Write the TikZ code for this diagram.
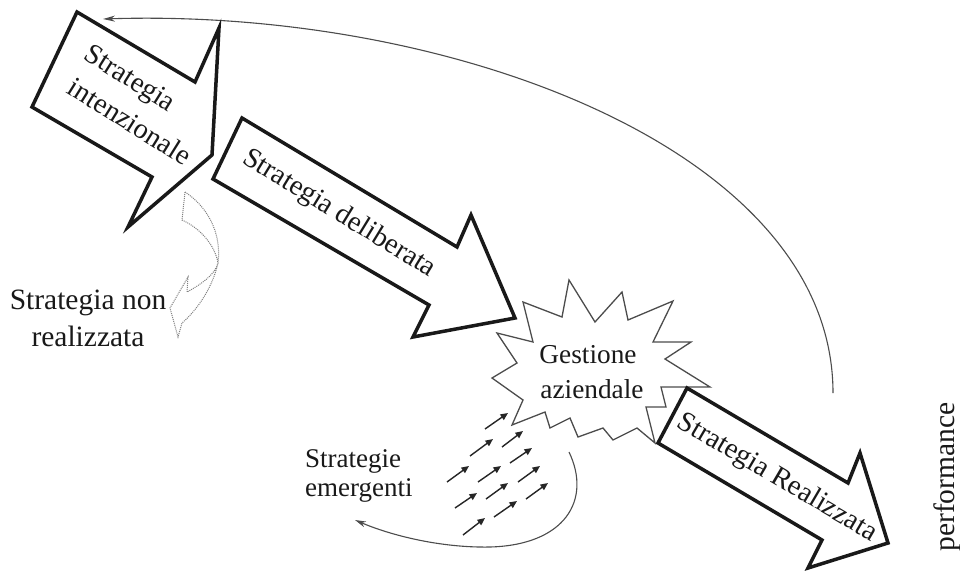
\documentclass[tikz,border=0pt]{standalone}
\usepackage{fontspec}
\setmainfont{Liberation Serif}
\usetikzlibrary{arrows.meta}
\begin{document}
\begin{tikzpicture}[x=1pt,y=-1pt,
  bigarrow/.style={draw=black!90, line width=3.5pt, fill=white, line join=miter},
  burst/.style={draw=black!70, line width=1.3pt, fill=white, line join=miter},
  lbl/.style={text=black!90, inner sep=0pt},
  thinline/.style={draw=black!70, line width=1.1pt},
  smallarrow/.style={draw=black!85, line width=1.4pt, -{Triangle[length=7.5pt,width=6.5pt]}},
  dotarrow/.style={draw=black!50, line width=1pt, dash pattern=on 1pt off 1pt}
]
\fill[white] (0,0) rectangle (960,570);
\useasboundingbox (0,0) rectangle (960,570);

% big return curve
\coordinate (cs) at (833,393);
\coordinate (ce) at (103,19);
\draw[thinline, -{Stealth[length=12pt,width=6pt]}] (cs) .. controls (833,150) and (450,8) .. (ce);

% dotted unrealised arrow
\draw[dotarrow] (185,192) .. controls (205,205) and (222,230) .. (218,263)
  .. controls (212,290) and (195,312) .. (182,323) -- (178,337) -- (170,308) -- (188,277) -- (187,292)
  .. controls (200,285) and (215,275) .. (218,263)
  .. controls (215,245) and (200,228) .. (182,220) -- cycle;

% arrow 1
\draw[bigarrow] (77,12) -- (195,82) -- (219,28) -- (212,155) -- (128,227) -- (152,177) -- (32,107) -- cycle;
\node[lbl, rotate=-32, font=\fontsize{28.5}{30}\selectfont] (si1) at (129,80) {Strategia};
\node[lbl, rotate=-32, font=\fontsize{28.5}{30}\selectfont] (si2) at (130,121) {intenzionale};

% arrow 2
\draw[bigarrow] (242,118) -- (457,247) -- (471,215) -- (515,318) -- (413,337) -- (429,305) -- (213,179) -- cycle;
\node[lbl, rotate=-31.5, font=\fontsize{28.5}{30}\selectfont] (sd) at (339,214) {Strategia deliberata};

% starburst
\draw[burst] (569,280) -- (595,322) -- (622,292) -- (628,320) -- (673,301) -- (653,342) -- (691,342)
  -- (665,359) -- (710,387) -- (661,387) -- (666,407) -- (646,407) -- (655,443) -- (637,428)
  -- (613,440) -- (603,428) -- (578,437) -- (570,418) -- (550,428) -- (545,412) -- (512,425)
  -- (523,400) -- (492,378) -- (517,363) -- (497,333) -- (533,342) -- (523,302) -- (562,317) -- cycle;
\node[lbl, anchor=base, font=\fontsize{27.3}{30}\selectfont] (g1) at (588,363) {Gestione};
\node[lbl, anchor=base, font=\fontsize{27.3}{30}\selectfont] (g2) at (592,398) {aziendale};

% arrow 3
\draw[bigarrow] (687,388) -- (848,483) -- (860,453) -- (888,543) -- (808,568) -- (822,540) -- (658,443) -- cycle;
\node[lbl, rotate=-30.5, font=\fontsize{28.5}{30}\selectfont] (sr) at (777,478) {Strategia Realizzata};

% emergent arrows
\foreach \ax/\ay/\bx/\by in {485/429/508/413, 470/456/493/439, 502/447/523/431,
  447/482/469/466, 478/482/501/466, 510/463/532/448,
  455/508/477/493, 486/499/508/483, 518/482/540/466,
  463/535/485/518, 494/517/517/501, 526/499/548/483}
  \draw[smallarrow] (\ax,\ay) -- (\bx,\by);

% emergent curve
\coordinate (es) at (569,452);
\coordinate (ee) at (355,520);
\draw[thinline, -{Stealth[length=11pt,width=6pt]}] (es) .. controls (592,500) and (565,545) .. (490,547)
  .. controls (440,548) and (390,535) .. (ee);

% labels
\node[lbl, align=center, font=\fontsize{29.5}{37}\selectfont] (snr) at (88,318) {Strategia non\\realizzata};
\node[lbl, align=left, anchor=base west, font=\fontsize{27}{29}\selectfont] (se1) at (305,467) {Strategie};
\node[lbl, align=left, anchor=base west, font=\fontsize{27}{29}\selectfont] (se2) at (305,496) {emergenti};
\node[lbl, rotate=90, font=\fontsize{29.5}{30}\selectfont] (perf) at (947,477) {performance};
\end{tikzpicture}
\end{document}
